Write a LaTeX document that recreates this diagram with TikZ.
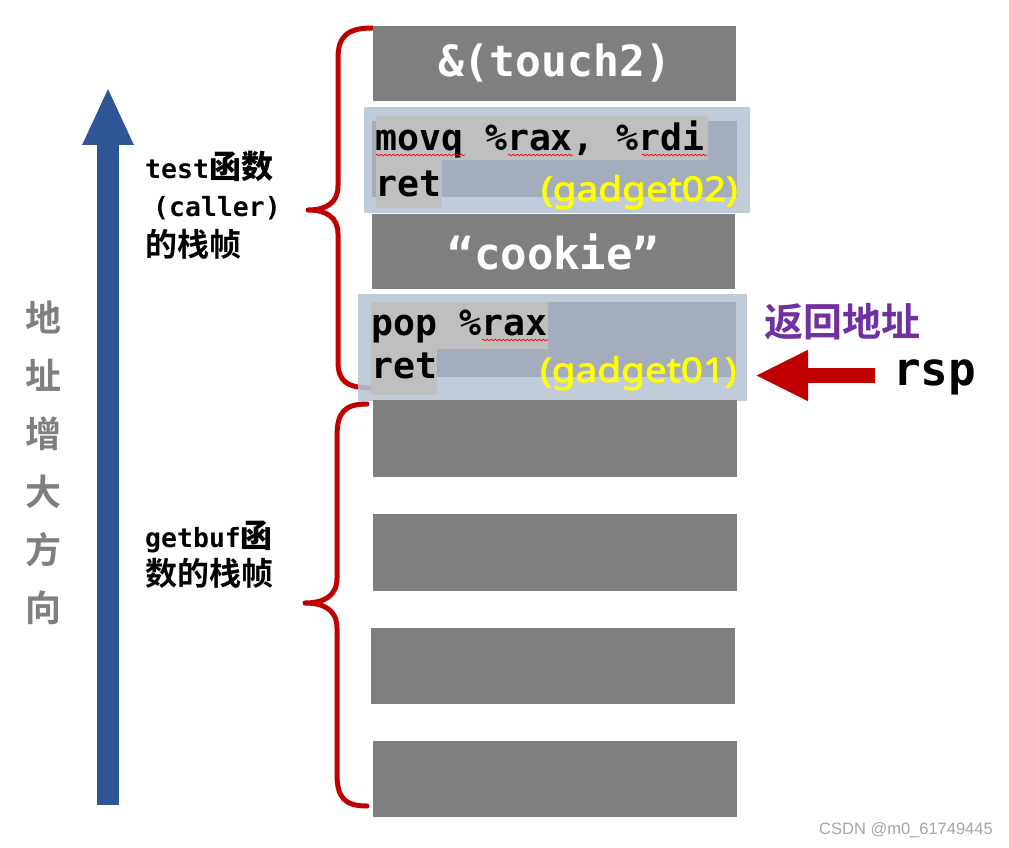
\documentclass[tikz,border=0pt]{standalone}
\usepackage{fontspec}
\setmainfont{DejaVu Sans}
\newfontfamily\monow{DejaVu Sans Mono}
\newfontfamily\cjkb{Noto Sans CJK SC Bold}
\newfontfamily\gsans[FakeStretch=1.14,FakeBold=2.5]{Noto Sans}
\newfontfamily\wmfont{Liberation Sans}
\usetikzlibrary{arrows.meta,decorations.pathmorphing}
\definecolor{slot}{HTML}{7F7F7F}
\definecolor{outerblue}{HTML}{B9C5D6}
\definecolor{innerblue}{HTML}{A4ADBC}
\definecolor{hl}{HTML}{BFBFBF}
\definecolor{bracered}{HTML}{C00000}
\definecolor{upblue}{HTML}{2F5597}
\definecolor{purp}{HTML}{7030A0}
\definecolor{gyellow}{HTML}{FFFF00}
\definecolor{wmgray}{HTML}{A6A6A6}
\tikzset{
  boxbase/.style={inner sep=0, outer sep=0, draw=none},
  slotbox/.style={boxbase, fill=slot, text=white},
  outerbox/.style={boxbase, fill=outerblue, fill opacity=0.88},
  innerbox/.style={boxbase, fill=innerblue},
  hlbox/.style={boxbase, fill=hl},
  codetext/.style={inner sep=0, anchor=base west, font=\monow\bfseries\fontsize{36.5}{40}\selectfont},
  gadtext/.style={inner sep=0, anchor=base east, text=gyellow, font=\gsans\fontsize{34}{38}\selectfont},
  sidelabel/.style={inner sep=0, anchor=base west},
  brace/.style={draw=bracered, line width=5pt, line cap=round, line join=round},
  vchar/.style={inner sep=0, text=slot, font=\cjkb\fontsize{36}{40}\selectfont},
  wavy/.style={draw=red, line width=0.7pt, decorate, decoration={snake, segment length=4pt, amplitude=0.9pt}},
}
\newcommand{\lblmono}{\monow\bfseries\fontsize{26.5}{30}\selectfont}
\newcommand{\lblcjk}{\cjkb\fontsize{32}{36}\selectfont}
\begin{document}
\begin{tikzpicture}[x=1pt,y=-1pt]
\useasboundingbox[fill=white] (0,0) rectangle (1009,848);

% braces
\draw[brace] (372,28) .. controls (348,28) and (338,36) .. (338,58) -- (338,186)
   .. controls (338,203) and (326,210) .. (308,210)
   .. controls (326,210) and (338,217) .. (338,234) -- (338,362)
   .. controls (338,382) and (348,388) .. (372,388);
\draw[brace] (367,404) .. controls (345,404) and (337,412) .. (337,436) -- (337,578)
   .. controls (337,596) and (324,603) .. (305,603)
   .. controls (324,603) and (337,610) .. (337,628) -- (337,774)
   .. controls (337,798) and (345,806) .. (367,806);

% stack slots
\node[slotbox, minimum width=363, minimum height=75] (touch) at (554.5,63.5)
  {\monow\bfseries\fontsize{43}{50}\selectfont \&(touch2)};

\node[outerbox, minimum width=386, minimum height=106] (g2outer) at (557,160) {};
\node[innerbox, minimum width=365, minimum height=76] (g2inner) at (554.5,159) {};
\node[hlbox, minimum width=332, minimum height=44] (hlmovq) at (542,138) {};
\node[hlbox, minimum width=66, minimum height=48] (hlret2) at (409,184) {};
\node[codetext] (movq) at (375,150) {movq \%rax, \%rdi};
\node[codetext] (ret2) at (375,196) {ret};
\node[gadtext] (gad2) at (738,201) {(gadget02)};

\node[slotbox, minimum width=363, minimum height=75] (cookie) at (553.5,251.5)
  {\monow\bfseries\fontsize{44}{50}\selectfont “cookie”};

\node[outerbox, minimum width=389, minimum height=107] (g1outer) at (552.5,347.5) {};
\node[innerbox, minimum width=365, minimum height=75] (g1inner) at (553.5,339.5) {};
\node[hlbox, minimum width=177, minimum height=47] (hlpop) at (459.5,325.5) {};
\node[hlbox, minimum width=66, minimum height=46] (hlret1) at (404,372) {};
\node[codetext] (pop) at (371,335) {pop \%rax};
\node[codetext] (ret1) at (371,378) {ret};
\node[gadtext] (gad1) at (737,382) {(gadget01)};

\node[slotbox, minimum width=364, minimum height=77] (b1) at (555,438.5) {};
\node[slotbox, minimum width=364, minimum height=77] (b2) at (555,552.5) {};
\node[slotbox, minimum width=364, minimum height=76] (b3) at (553,666) {};
\node[slotbox, minimum width=364, minimum height=76] (b4) at (555,779) {};

% spell-check underlines
\draw[wavy] (376,155) -- (465,155);
\draw[wavy] (508,155) -- (573,155);
\draw[wavy] (642,155) -- (707,155);
\draw[wavy] (482,340) -- (548,340);

% side labels
\node[sidelabel] (t1) at (145,178) {\lblmono test\lblcjk 函数};
\node[sidelabel] (t2) at (153,216) {\lblmono (caller)};
\node[sidelabel] (t3) at (145,256) {\lblcjk 的栈帧};
\node[sidelabel] (u1) at (145,547) {\lblmono getbuf\lblcjk 函};
\node[sidelabel] (u2) at (145,585) {\lblcjk 数的栈帧};

% address direction
\coordinate (upbot) at (108,805);
\coordinate (uptop) at (108,87);
\draw[upblue, line width=22pt, -{Triangle[length=58pt,width=47pt]}] (upbot) -- (uptop);
\foreach \c [count=\i from 0] in {地,址,增,大,方,向}
  \node[vchar] (v\i) at (43,{317+58.2*\i}) {\c};

% return address and rsp
\node[inner sep=0, text=purp, font=\cjkb\fontsize{39}{44}\selectfont] (ret) at (842,322) {返回地址};
\node[inner sep=0, anchor=base west, font=\monow\bfseries\fontsize{46}{50}\selectfont] (rsp) at (893,385) {rsp};
\coordinate (rsptail) at (875,375.5);
\draw[bracered, line width=15pt, shorten >=8pt, -{Triangle[length=53pt,width=47pt]}] (rsptail) -- (rsptail -| g1outer.east);

% watermark
\node[inner sep=0, anchor=east, text=wmgray, font=\wmfont\fontsize{16.5}{20}\selectfont] (wm) at (993,830) {CSDN @m0\_61749445};
\end{tikzpicture}
\end{document}
